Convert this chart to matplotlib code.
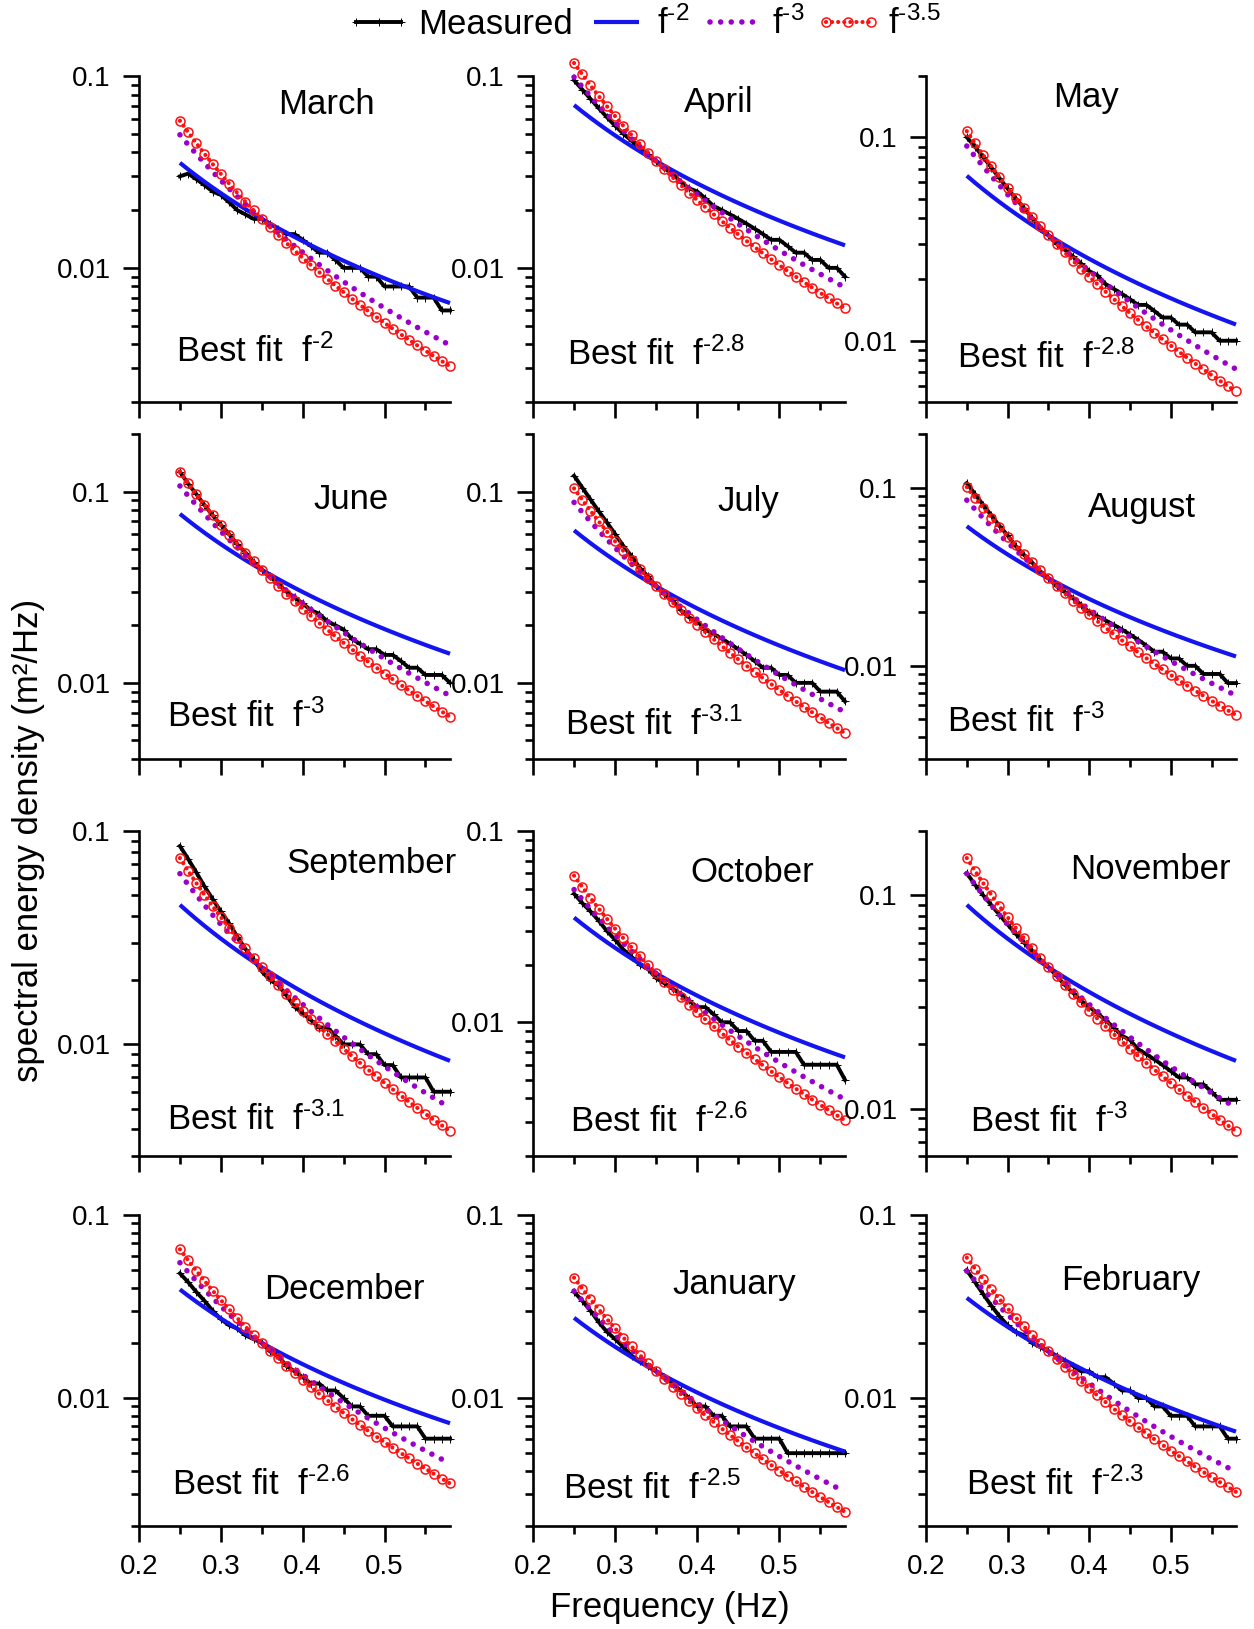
import numpy as np
import matplotlib
matplotlib.use("Agg")
import matplotlib.pyplot as plt
from matplotlib.ticker import LogLocator, NullFormatter, FuncFormatter, FixedLocator
from matplotlib.lines import Line2D

plt.rcParams['font.family'] = ['Liberation Sans', 'DejaVu Sans']
plt.rcParams['mathtext.fontset'] = 'custom'
plt.rcParams['mathtext.rm'] = 'Liberation Sans'
plt.rcParams['mathtext.it'] = 'Liberation Sans'

HY = "\u2010"  # short hyphen used in the exponents

# ---------------- data ----------------
freq = [0.25, 0.26, 0.27, 0.28, 0.29, 0.30, 0.31, 0.32, 0.33, 0.34, 0.35,
        0.36, 0.37, 0.38, 0.39, 0.40, 0.41, 0.42, 0.43, 0.44, 0.45, 0.46,
        0.47, 0.48, 0.49, 0.50, 0.51, 0.52, 0.53, 0.54, 0.55, 0.56, 0.57, 0.58]

months = ["March", "April", "May", "June", "July", "August",
          "September", "October", "November", "December", "January", "February"]
best_fit = ["2", "2.8", "2.8", "3", "3.1", "3",
            "3.1", "2.6", "3", "2.6", "2.5", "2.3"]
# level of the fitted power laws at the frequency where they cross (0.35 Hz)
fit_level = [0.018, 0.036, 0.033, 0.039, 0.032, 0.031,
             0.023, 0.018, 0.046, 0.020, 0.014, 0.018]
fit_pivot_freq = 0.35
model_exponents = [2, 3, 3.5]
model_exp_labels = ["2", "3", "3.5"]

measured_march = [0.030, 0.031, 0.029, 0.027, 0.025, 0.024, 0.022, 0.020, 0.019, 0.018, 0.018,
                  0.017, 0.016, 0.015, 0.015, 0.014, 0.013, 0.012, 0.012, 0.011, 0.010, 0.010,
                  0.010, 0.009, 0.009, 0.008, 0.008, 0.008, 0.008, 0.007, 0.007, 0.007, 0.006, 0.006]
measured_april = [0.095, 0.085, 0.076, 0.068, 0.061, 0.055, 0.050, 0.046, 0.042, 0.039, 0.036,
                  0.033, 0.031, 0.028, 0.026, 0.025, 0.023, 0.021, 0.020, 0.019, 0.018, 0.017,
                  0.016, 0.015, 0.014, 0.014, 0.013, 0.012, 0.012, 0.011, 0.011, 0.010, 0.010, 0.009]
measured_may = [0.100, 0.090, 0.080, 0.071, 0.063, 0.056, 0.050, 0.045, 0.040, 0.036, 0.033,
                0.030, 0.028, 0.026, 0.024, 0.022, 0.021, 0.019, 0.018, 0.017, 0.016, 0.015,
                0.015, 0.014, 0.013, 0.013, 0.012, 0.012, 0.011, 0.011, 0.011, 0.010, 0.010, 0.010]
measured_june = [0.127, 0.110, 0.097, 0.085, 0.075, 0.067, 0.060, 0.053, 0.048, 0.043, 0.039,
                 0.036, 0.033, 0.030, 0.028, 0.026, 0.024, 0.023, 0.021, 0.020, 0.019, 0.017,
                 0.016, 0.015, 0.015, 0.014, 0.014, 0.013, 0.012, 0.012, 0.011, 0.011, 0.011, 0.010]
measured_july = [0.121, 0.105, 0.091, 0.079, 0.069, 0.060, 0.052, 0.046, 0.040, 0.036, 0.032,
                 0.029, 0.027, 0.024, 0.022, 0.021, 0.019, 0.018, 0.017, 0.016, 0.015, 0.014,
                 0.013, 0.012, 0.012, 0.011, 0.011, 0.010, 0.010, 0.010, 0.009, 0.009, 0.009, 0.008]
measured_august = [0.106, 0.092, 0.080, 0.070, 0.061, 0.054, 0.047, 0.042, 0.038, 0.034, 0.031,
                   0.028, 0.026, 0.024, 0.022, 0.020, 0.019, 0.018, 0.017, 0.016, 0.015, 0.014,
                   0.013, 0.012, 0.012, 0.011, 0.011, 0.010, 0.010, 0.009, 0.009, 0.009, 0.008, 0.008]
measured_september = [0.085, 0.074, 0.064, 0.055, 0.048, 0.042, 0.037, 0.032, 0.028, 0.025, 0.022,
                      0.020, 0.019, 0.017, 0.015, 0.014, 0.013, 0.012, 0.012, 0.011, 0.010, 0.010,
                      0.010, 0.009, 0.009, 0.008, 0.008, 0.007, 0.007, 0.007, 0.007, 0.006, 0.006, 0.006]
measured_october = [0.047, 0.042, 0.038, 0.034, 0.030, 0.027, 0.024, 0.022, 0.020, 0.019, 0.017,
                    0.016, 0.015, 0.014, 0.013, 0.012, 0.012, 0.011, 0.010, 0.010, 0.009, 0.009,
                    0.008, 0.008, 0.007, 0.007, 0.007, 0.007, 0.006, 0.006, 0.006, 0.006, 0.006, 0.005]
measured_november = [0.127, 0.112, 0.100, 0.090, 0.081, 0.073, 0.066, 0.060, 0.055, 0.050, 0.046,
                     0.042, 0.038, 0.035, 0.032, 0.030, 0.028, 0.026, 0.024, 0.022, 0.021, 0.019,
                     0.018, 0.017, 0.016, 0.015, 0.014, 0.014, 0.013, 0.013, 0.012, 0.011, 0.011, 0.011]
measured_december = [0.048, 0.043, 0.038, 0.034, 0.030, 0.027, 0.025, 0.024, 0.022, 0.021, 0.020,
                     0.018, 0.017, 0.015, 0.014, 0.013, 0.012, 0.012, 0.011, 0.011, 0.010, 0.009,
                     0.009, 0.008, 0.008, 0.008, 0.007, 0.007, 0.007, 0.007, 0.006, 0.006, 0.006, 0.006]
measured_january = [0.038, 0.034, 0.030, 0.026, 0.023, 0.021, 0.019, 0.017, 0.016, 0.015, 0.014,
                     0.013, 0.012, 0.011, 0.010, 0.009, 0.009, 0.008, 0.008, 0.007, 0.007, 0.007,
                     0.006, 0.006, 0.006, 0.006, 0.005, 0.005, 0.005, 0.005, 0.005, 0.005, 0.005, 0.005]
measured_february = [0.050, 0.043, 0.037, 0.032, 0.028, 0.025, 0.023, 0.022, 0.020, 0.019, 0.018,
                     0.017, 0.016, 0.015, 0.014, 0.014, 0.013, 0.013, 0.012, 0.011, 0.011, 0.010,
                     0.010, 0.009, 0.009, 0.008, 0.008, 0.008, 0.007, 0.007, 0.007, 0.007, 0.006, 0.006]

measured = [measured_march, measured_april, measured_may, measured_june, measured_july,
            measured_august, measured_september, measured_october, measured_november,
            measured_december, measured_january, measured_february]

x_ticks = [0.2, 0.3, 0.4, 0.5]
x_minor = [0.25, 0.35, 0.45, 0.55]


def power_label(exp_text):
    return r"$\mathregular{f^{" + HY + exp_text + r"}}$"


# ---------------- layout ----------------
W, H = 1254, 1629
fig = plt.figure(figsize=(W / 100, H / 100), dpi=100)

col_left = [139, 533, 926]
col_width = [311, 312, 310]
row_top = [76, 434, 831, 1215]
row_bottom = [402, 759, 1156, 1526]

ylims = [(0.002, 0.1), (0.002, 0.1), (0.005, 0.2),
         (0.004, 0.2), (0.004, 0.2), (0.003, 0.2),
         (0.003, 0.1), (0.002, 0.1), (0.006, 0.2),
         (0.002, 0.1), (0.002, 0.1), (0.002, 0.1)]
title_pos = [(0.604, 0.883), (0.596, 0.890), (0.515, 0.906),
             (0.681, 0.769), (0.690, 0.763), (0.697, 0.746),
             (0.746, 0.872), (0.703, 0.844), (0.723, 0.851),
             (0.659, 0.731), (0.644, 0.746), (0.661, 0.758)]
fit_pos = [(0.120, 0.124), (0.110, 0.113), (0.100, 0.106),
           (0.090, 0.099), (0.104, 0.074), (0.068, 0.084),
           (0.090, 0.082), (0.120, 0.075), (0.143, 0.075),
           (0.106, 0.099), (0.096, 0.089), (0.130, 0.099)]

blue = '#1414F0'
purple = '#9A00CC'
red = '#FF1010'
FS = 25

styles = [
    dict(color=blue, lw=3.0, ls='-', solid_capstyle='butt'),
    dict(color=purple, lw=4.0, ls=(0, (0.01, 1.9)), dash_capstyle='round'),
    dict(color=red, lw=3.0, ls=(0, (0.01, 1.45)), dash_capstyle='round',
         marker='o', ms=6.5, mfc='none', mec=red, mew=1.1),
]
meas_style = dict(color='black', lw=2.8, marker='+', ms=6, mew=0.7)

f_arr = np.array(freq)
for i, name in enumerate(months):
    r, c = divmod(i, 3)
    left = col_left[c] / W
    bottom = 1 - row_bottom[r] / H
    width = col_width[c] / W
    height = (row_bottom[r] - row_top[r]) / H
    ax = fig.add_axes([left, bottom, width, height])

    ax.plot(freq, measured[i], clip_on=False, zorder=3, **meas_style)
    for n, st in zip(model_exponents, styles):
        curve = fit_level[i] * (f_arr / fit_pivot_freq) ** (-n)
        ax.plot(freq, curve, clip_on=False, zorder=4, **st)

    ax.set_yscale('log')
    ax.set_xlim(0.2, 0.58)
    ax.set_ylim(*ylims[i])
    ax.xaxis.set_major_locator(FixedLocator(x_ticks))
    ax.xaxis.set_minor_locator(FixedLocator(x_minor))
    ax.yaxis.set_major_locator(LogLocator(base=10, numticks=10))
    ax.yaxis.set_minor_locator(LogLocator(base=10, subs=np.arange(2, 10), numticks=20))
    ax.yaxis.set_major_formatter(FuncFormatter(lambda v, p: f'{v:g}'))
    ax.yaxis.set_minor_formatter(NullFormatter())
    ax.xaxis.set_major_formatter(FuncFormatter(lambda v, p: f'{v:.1f}'))

    for s in ['top', 'right']:
        ax.spines[s].set_visible(False)
    for s in ['left', 'bottom']:
        ax.spines[s].set_linewidth(1.9)
    ax.tick_params(which='major', direction='out', length=11.5, width=1.9,
                   labelsize=20, pad=9)
    ax.tick_params(which='minor', direction='out', length=6, width=1.9)
    ax.tick_params(axis='x', labelbottom=(r == 3))
    ax.patch.set_alpha(0)

    tx, ty = title_pos[i]
    ax.text(tx, ty, name, transform=ax.transAxes, ha='center', va='baseline',
            fontsize=FS)
    bx, by = fit_pos[i]
    ax.text(bx, by, "Best fit  " + power_label(best_fit[i]),
            transform=ax.transAxes, ha='left', va='baseline', fontsize=FS)

# axis labels
fig.text(29 / W, 1 - 840 / H, "spectral energy density (m\u00b2/Hz)", rotation=90,
         ha='center', va='center', fontsize=FS)
fig.text(670 / W, 1 - 1608 / H, "Frequency (Hz)", ha='center', va='center', fontsize=FS)

# legend
handles = [Line2D([], [], **meas_style)] + [Line2D([], [], **st) for st in styles]
labels = ["Measured"] + [power_label(e) for e in model_exp_labels]
fig.legend(handles, labels, loc='center', bbox_to_anchor=(0.513, 1 - 24 / H), ncol=4,
           frameon=False, fontsize=FS, numpoints=3, handlelength=1.9,
           handletextpad=0.2, columnspacing=0.3, borderpad=0)

fig.savefig("out.png", dpi=100)
